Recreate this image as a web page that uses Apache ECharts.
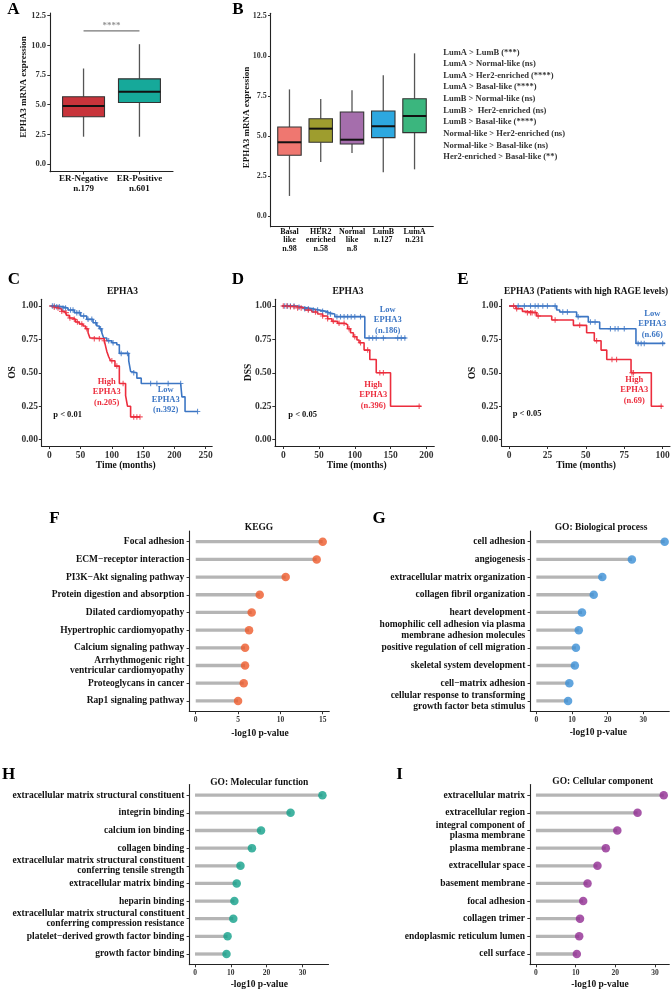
<!DOCTYPE html>
<html><head><meta charset="utf-8">
<script src="https://cdn.jsdelivr.net/npm/echarts@6/dist/echarts.min.js"></script>
<style>html,body{margin:0;padding:0;background:#fff}#c{width:672px;height:991px}</style>
</head><body><div id="c"></div>
<script>
// ================= DATA =================
// Panel A : EPHA3 by ER status (box stats)
const aCategories = ['ER-Negative\nn.179', 'ER-Positive\nn.601'];
const aMin    = [2.30, 2.30];
const aQ1     = [3.98, 5.19];
const aMedian = [4.88, 6.09];
const aQ3     = [5.67, 7.18];
const aMax    = [8.05, 10.10];
const aColors = ['#C8343B', '#16A99A'];
const aSignifLevel = 11.22;
const aSignifText = '****';

// Panel B : EPHA3 by PAM50 subtype
const bCategories = ['Basal\nlike\nn.98', 'HER2\nenriched\nn.58', 'Normal\nlike\nn.8', 'LumB\nn.127', 'LumA\nn.231'];
const bMin    = [1.25, 3.37, 3.93, 2.73, 2.91];
const bQ1     = [3.79, 4.60, 4.49, 4.89, 5.20];
const bMedian = [4.60, 5.45, 4.76, 5.60, 6.24];
const bQ3     = [5.55, 6.07, 6.49, 6.55, 7.32];
const bMax    = [7.90, 7.30, 7.84, 8.78, 10.15];
const bColors = ['#EF7770', '#9E9D2E', '#A56EAC', '#2DA8E0', '#3BB67E'];
const bComparisons = [
  'LumA > LumB (***)',
  'LumA > Normal-like (ns)',
  'LumA > Her2-enriched (****)',
  'LumA > Basal-like (****)',
  'LumB > Normal-like (ns)',
  'LumB >  Her2-enriched (ns)',
  'LumB > Basal-like (****)',
  'Normal-like > Her2-enriched (ns)',
  'Normal-like > Basal-like (ns)',
  'Her2-enriched > Basal-like (**)'
];
const boxTicks = [0, 2.5, 5, 7.5, 10, 12.5];

// Panels C-E : Kaplan-Meier curves  [time, survival]
const survTicks = [0, 0.25, 0.5, 0.75, 1];
const cTimeTicks = [0, 50, 100, 150, 200, 250];
const dTimeTicks = [0, 50, 100, 150, 200];
const eTimeTicks = [0, 25, 50, 75, 100];

const cHigh = [[0,1.0],[5,0.99],[10,0.985],[15,0.975],[20,0.96],[25,0.95],[28,0.93],[32,0.91],[38,0.90],[42,0.88],[48,0.865],[54,0.85],[58,0.83],[62,0.80],[65,0.76],[70,0.755],[88,0.74],[90,0.70],[92,0.66],[95,0.62],[98,0.59],[105,0.55],[112,0.42],[122,0.33],[125,0.25],[130,0.17],[145,0.17]];
const cLow  = [[3,1.0],[10,0.995],[20,0.985],[30,0.97],[40,0.95],[50,0.925],[60,0.90],[70,0.875],[76,0.85],[80,0.83],[84,0.80],[87,0.76],[92,0.74],[100,0.725],[108,0.71],[112,0.645],[127,0.59],[130,0.51],[133,0.50],[140,0.46],[147,0.42],[210,0.42],[212,0.32],[217,0.21],[237,0.21]];
const cHighCensor = [8,14,20,27,33,40,45,52,60,72,80,88,100,108,118,135,140,145];
const cLowCensor  = [5,8,12,16,22,26,34,38,44,48,55,62,68,74,82,95,102,115,125,135,162,172,190,210,237];

const dHigh = [[-2,1.0],[10,0.995],[20,0.985],[30,0.97],[40,0.955],[48,0.94],[55,0.925],[62,0.905],[68,0.885],[76,0.87],[86,0.86],[90,0.83],[94,0.80],[98,0.77],[103,0.745],[106,0.725],[113,0.67],[121,0.60],[130,0.50],[150,0.25],[193,0.25]];
const dLow  = [[-2,1.0],[19,0.99],[28,0.98],[40,0.97],[50,0.96],[60,0.95],[64,0.94],[72,0.92],[114,0.76],[172,0.76]];
const dHighCensor = [0,5,10,15,20,25,35,45,55,62,70,78,85,92,100,108,118,135,140,190];
const dLowCensor  = [2,6,10,15,22,30,35,42,48,55,62,66,75,80,85,90,95,100,108,120,125,130,140,160,165,170];

const eHigh = [[0,1.0],[4.5,0.98],[8.7,0.96],[10.4,0.95],[18,0.925],[27.8,0.895],[41.9,0.855],[50.5,0.80],[55.5,0.74],[59.9,0.67],[63.6,0.60],[79.4,0.50],[92.6,0.25],[100,0.25]];
const eLow  = [[0,1.0],[31,0.97],[33,0.955],[44,0.92],[51.6,0.88],[59,0.83],[82.6,0.72],[101.5,0.72]];
const eHighCensor = [3,5,12,14,15,17,19,30,46,57,67,70,80,81,99];
const eLowCensor  = [6,10,14,17,19,22,25,30,35,38,45,53,56,66,69,71,75,84,86,88,100];

// Panels F-I : enrichment lollipops (-log10 p)
const fTerms = ['Focal adhesion','ECM\u2212receptor interaction','PI3K\u2212Akt signaling pathway','Protein digestion and absorption','Dilated cardiomyopathy','Hypertrophic cardiomyopathy','Calcium signaling pathway','Arrhythmogenic right\nventricular cardiomyopathy','Proteoglycans in cancer','Rap1 signaling pathway'];
const fValues = [15.0, 14.29, 10.63, 7.56, 6.61, 6.30, 5.83, 5.83, 5.67, 5.0];
const gTerms = ['cell adhesion','angiogenesis','extracellular matrix organization','collagen fibril organization','heart development','homophilic cell adhesion via plasma\nmembrane adhesion molecules','positive regulation of cell migration','skeletal system development','cell\u2212matrix adhesion','cellular response to transforming\ngrowth factor beta stimulus'];
const gValues = [36.0, 26.8, 18.5, 16.1, 12.8, 11.9, 11.1, 10.8, 9.25, 8.9];
const hTerms = ['extracellular matrix structural constituent','integrin binding','calcium ion binding','collagen binding','extracellular matrix structural constituent\nconferring tensile strength','extracellular matrix binding','heparin binding','extracellular matrix structural constituent\nconferring compression resistance','platelet\u2212derived growth factor binding','growth factor binding'];
const hValues = [35.6, 26.7, 18.45, 15.9, 12.7, 11.65, 11.0, 10.7, 9.1, 8.8];
const iTerms = ['extracellular matrix','extracellular region','integral component of\nplasma membrane','plasma membrane','extracellular space','basement membrane','focal adhesion','collagen trimer','endoplasmic reticulum lumen','cell surface'];
const iValues = [32.2, 25.6, 20.5, 17.6, 15.5, 13.0, 11.9, 11.1, 10.9, 10.3];
const fTicks = [0, 5, 10, 15];
const goTicks = [0, 10, 20, 30];
const termIndex = [0,1,2,3,4,5,6,7,8,9];

// ================= CHART =================
const FF = '"Liberation Serif", "Times New Roman", serif';
const RED = '#EC2D3D', BLUE = '#3C76C4';
const chart = echarts.init(document.getElementById('c'), null, {renderer: 'canvas', width: 672, height: 991});

function grid(left, top, width, height) {
  return {left, top, width, height, containLabel: false, outerBoundsMode: 'none', show: false};
}
function vAxis(gi, min, max, ticks, o) {
  o = o || {};
  return {
    type: 'value', gridIndex: gi, min, max, inverse: !!o.inverse,
    splitLine: {show: false},
    axisLine: {show: true, onZero: false, lineStyle: {color: '#222', width: 1.1}},
    axisTick: {show: true, customValues: ticks, length: o.tickLen || 2.7, lineStyle: {color: '#333', width: 1}},
    axisLabel: {show: true, customValues: ticks, formatter: o.fmt, margin: o.margin == null ? 4 : o.margin,
      color: o.color || '#333', fontFamily: FF, fontWeight: 'bold', fontSize: o.size || 9, lineHeight: o.lh}
  };
}
function boxSeries(gi, mins, q1s, meds, q3s, maxs, colors) {
  const data = mins.map((m, i) => [i + 1, m, q1s[i], meds[i], q3s[i], maxs[i]]);
  return {
    type: 'custom', xAxisIndex: gi, yAxisIndex: gi, data, encode: {x: 0, y: [1, 2, 3, 4, 5]},
    renderItem(params, api) {
      const x = api.value(0);
      const pMin = api.coord([x, api.value(1)]), pQ1 = api.coord([x, api.value(2)]);
      const pMed = api.coord([x, api.value(3)]), pQ3 = api.coord([x, api.value(4)]);
      const pMax = api.coord([x, api.value(5)]);
      const hw = api.size([0.75, 0])[0] / 2;
      return {type: 'group', children: [
        {type: 'line', shape: {x1: pMin[0], y1: pMin[1], x2: pQ1[0], y2: pQ1[1]}, style: {stroke: '#555', lineWidth: 1.3}},
        {type: 'line', shape: {x1: pQ3[0], y1: pQ3[1], x2: pMax[0], y2: pMax[1]}, style: {stroke: '#555', lineWidth: 1.3}},
        {type: 'rect', shape: {x: pQ3[0] - hw, y: pQ3[1], width: 2 * hw, height: pQ1[1] - pQ3[1]}, style: {fill: colors[params.dataIndex], stroke: '#333', lineWidth: 1.1}},
        {type: 'line', shape: {x1: pMed[0] - hw, y1: pMed[1], x2: pMed[0] + hw, y2: pMed[1]}, style: {stroke: '#111', lineWidth: 2}}
      ]};
    }
  };
}
function survAt(curve, t) {
  let s = curve[0][1];
  for (const p of curve) { if (p[0] <= t) s = p[1]; }
  return s;
}
const PLUS = 'path://M4,0H6V4H10V6H6V10H4V6H0V4H4Z';
function kmSeries(gi, curve, censor, color) {
  return [
    {type: 'line', xAxisIndex: gi, yAxisIndex: gi, data: curve, step: 'end', symbol: 'none', z: 3,
      lineStyle: {color, width: 1.6}, itemStyle: {color}, animation: false},
    {type: 'scatter', xAxisIndex: gi, yAxisIndex: gi, data: censor.map(t => [t, survAt(curve, t)]),
      symbol: PLUS, symbolSize: 5.5, itemStyle: {color}, z: 4, animation: false}
  ];
}
function lollipop(gi, values, color) {
  const data = values.map((v, i) => [v, termIndex[i]]);
  return [
    {type: 'custom', xAxisIndex: gi, yAxisIndex: gi, data, encode: {x: 0, y: 1},
      renderItem(params, api) {
        const p0 = api.coord([0, api.value(1)]), p1 = api.coord([api.value(0), api.value(1)]);
        return {type: 'line', shape: {x1: p0[0], y1: p0[1], x2: p1[0], y2: p1[1]}, style: {stroke: '#B5B5B5', lineWidth: 3.3}};
      }},
    {type: 'scatter', xAxisIndex: gi, yAxisIndex: gi, data, symbolSize: 8.5, itemStyle: {color}, z: 4}
  ];
}
function txt(x, y, text, size, o) {
  o = o || {};
  return {type: 'text', x, y, rotation: o.rot || 0, z: 10, silent: true,
    style: {text, font: 'bold ' + size + 'px ' + FF, fill: o.color || '#111',
      align: o.align || 'center', verticalAlign: 'middle', lineHeight: o.lh}};
}

const grids = [
  grid(50, 13, 123, 158.7),      // A
  grid(270.7, 13.3, 162.6, 213.4), // B
  grid(41.5, 299.3, 170.7, 147), // C
  grid(275, 299.3, 159.3, 147),  // D
  grid(501.7, 299.3, 168.3, 147),// E
  grid(189.3, 531.1, 140, 180.4),// F
  grid(530.3, 531.1, 139, 180.4),// G
  grid(189.3, 784.6, 139.2, 180),// H
  grid(530, 784.6, 139.3, 180)   // I
];
const fmt2 = v => v.toFixed(2);
const fmt1 = v => v.toFixed(1);
const xAxes = [
  vAxis(0, 0.4, 2.6, [1, 2], {fmt: v => aCategories[Math.round(v) - 1], margin: 2, color: '#111', size: 9, lh: 10}),
  vAxis(1, 0.4, 5.6, [1, 2, 3, 4, 5], {fmt: v => bCategories[Math.round(v) - 1], margin: 1.2, color: '#111', size: 8, lh: 8.3}),
  vAxis(2, -12.4, 260.4, cTimeTicks, {size: 9.5, margin: 4.5}),
  vAxis(3, -11.6, 211.2, dTimeTicks, {size: 9.5, margin: 4.5}),
  vAxis(4, -4.75, 104.75, eTimeTicks, {size: 9.5, margin: 4.5}),
  vAxis(5, -0.76, 15.78, fTicks, {size: 7.5, margin: 4.5}),
  vAxis(6, -1.7, 37.3, goTicks, {size: 7.5, margin: 4.5}),
  vAxis(7, -1.6, 37.3, goTicks, {size: 7.5, margin: 4.5}),
  vAxis(8, -1.5, 33.6, goTicks, {size: 7.5, margin: 4.5})
];
const yAxes = [
  vAxis(0, -0.65, 12.73, boxTicks, {fmt: fmt1, size: 8.5, margin: 4}),
  vAxis(1, -0.67, 12.65, boxTicks, {fmt: fmt1, size: 8, margin: 4}),
  vAxis(2, -0.05, 1.05, survTicks, {fmt: fmt2, size: 9.5, margin: 3.5}),
  vAxis(3, -0.05, 1.05, survTicks, {fmt: fmt2, size: 9.5, margin: 3.5}),
  vAxis(4, -0.05, 1.05, survTicks, {fmt: fmt2, size: 9.5, margin: 3.5}),
  vAxis(5, -0.6, 9.6, termIndex, {inverse: true, fmt: v => fTerms[Math.round(v)], size: 9.5, margin: 5, color: '#111', lh: 10.5}),
  vAxis(6, -0.6, 9.6, termIndex, {inverse: true, fmt: v => gTerms[Math.round(v)], size: 9.5, margin: 5, color: '#111', lh: 10.5}),
  vAxis(7, -0.6, 9.6, termIndex, {inverse: true, fmt: v => hTerms[Math.round(v)], size: 9.5, margin: 5, color: '#111', lh: 10.5}),
  vAxis(8, -0.6, 9.6, termIndex, {inverse: true, fmt: v => iTerms[Math.round(v)], size: 9.5, margin: 5, color: '#111', lh: 10.5})
];

const series = [
  boxSeries(0, aMin, aQ1, aMedian, aQ3, aMax, aColors),
  {type: 'line', xAxisIndex: 0, yAxisIndex: 0, data: [[1, aSignifLevel], [2, aSignifLevel]], symbol: 'none',
    lineStyle: {color: '#777', width: 1.2}, animation: false},
  {type: 'scatter', xAxisIndex: 0, yAxisIndex: 0, data: [[1.5, aSignifLevel]], symbolSize: 0,
    label: {show: true, position: 'top', distance: 1, formatter: aSignifText, color: '#777', fontFamily: FF, fontWeight: 'bold', fontSize: 9}},
  boxSeries(1, bMin, bQ1, bMedian, bQ3, bMax, bColors),
  ...kmSeries(2, cLow, cLowCensor, BLUE),
  ...kmSeries(2, cHigh, cHighCensor, RED),
  ...kmSeries(3, dLow, dLowCensor, BLUE),
  ...kmSeries(3, dHigh, dHighCensor, RED),
  ...kmSeries(4, eLow, eLowCensor, BLUE),
  ...kmSeries(4, eHigh, eHighCensor, RED),
  ...lollipop(5, fValues, '#EE5A2B'),
  ...lollipop(6, gValues, '#3A8ED6'),
  ...lollipop(7, hValues, '#12A08A'),
  ...lollipop(8, iValues, '#912C92')
];

const graphics = [
  // panel letters
  txt(13.5, 10, 'A', 17, {color: '#000'}),
  txt(238, 9.5, 'B', 17, {color: '#000'}),
  txt(14, 280, 'C', 17, {color: '#000'}),
  txt(238, 280, 'D', 17, {color: '#000'}),
  txt(463, 280, 'E', 17, {color: '#000'}),
  txt(54.5, 518.5, 'F', 17, {color: '#000'}),
  txt(379, 518.5, 'G', 17, {color: '#000'}),
  txt(8.5, 775, 'H', 17, {color: '#000'}),
  txt(399.5, 775, 'I', 17, {color: '#000'}),
  // axis titles
  txt(24, 87, 'EPHA3 mRNA expression', 9, {rot: Math.PI / 2}),
  txt(246.7, 117.5, 'EPHA3 mRNA expression', 9, {rot: Math.PI / 2}),
  txt(12.7, 372.5, 'OS', 9.5, {rot: Math.PI / 2}),
  txt(249, 372.5, 'DSS', 9.5, {rot: Math.PI / 2}),
  txt(472.7, 373, 'OS', 9.5, {rot: Math.PI / 2}),
  txt(125.7, 465.7, 'Time (months)', 9.5),
  txt(356.7, 466, 'Time (months)', 9.5),
  txt(586, 466, 'Time (months)', 9.5),
  txt(260, 733.3, '-log10 p-value', 9.5),
  txt(598.3, 732.7, '-log10 p-value', 9.5),
  txt(259.3, 985, '-log10 p-value', 9.5),
  txt(600, 985, '-log10 p-value', 9.5),
  // panel titles
  txt(122.5, 292, 'EPHA3', 9.5),
  txt(348, 292, 'EPHA3', 9.5),
  txt(586, 292, 'EPHA3 (Patients with high RAGE levels)', 9.3),
  txt(259, 527.3, 'KEGG', 9.5),
  txt(601, 528, 'GO: Biological process', 9.5),
  txt(259.3, 782.3, 'GO: Molecular function', 9.5),
  txt(602.7, 782, 'GO: Cellular component', 9.5),
  // KM annotations
  txt(106.7, 392, 'High\nEPHA3\n(n.205)', 8.5, {color: RED, lh: 10.3}),
  txt(165.7, 399.7, 'Low\nEPHA3\n(n.392)', 8.5, {color: BLUE, lh: 10.3}),
  txt(53.3, 415, 'p < 0.01', 8.5, {align: 'left'}),
  txt(387.7, 320, 'Low\nEPHA3\n(n.186)', 8.5, {color: BLUE, lh: 10.5}),
  txt(373.3, 395, 'High\nEPHA3\n(n.396)', 8.5, {color: RED, lh: 10.3}),
  txt(288.3, 415, 'p < 0.05', 8.5, {align: 'left'}),
  txt(652.3, 324, 'Low\nEPHA3\n(n.66)', 8.5, {color: BLUE, lh: 10.3}),
  txt(634.3, 390, 'High\nEPHA3\n(n.69)', 8.5, {color: RED, lh: 10.3}),
  txt(512.7, 414, 'p < 0.05', 8.5, {align: 'left'})
];
bComparisons.forEach((s, i) => graphics.push(txt(443.3, 52.3 + i * 11.63, s, 8.5, {align: 'left', color: '#333'})));

chart.setOption({
  backgroundColor: '#fff',
  animation: false,
  grid: grids,
  xAxis: xAxes,
  yAxis: yAxes,
  series,
  graphic: {elements: graphics}
});
</script>
</body></html>
